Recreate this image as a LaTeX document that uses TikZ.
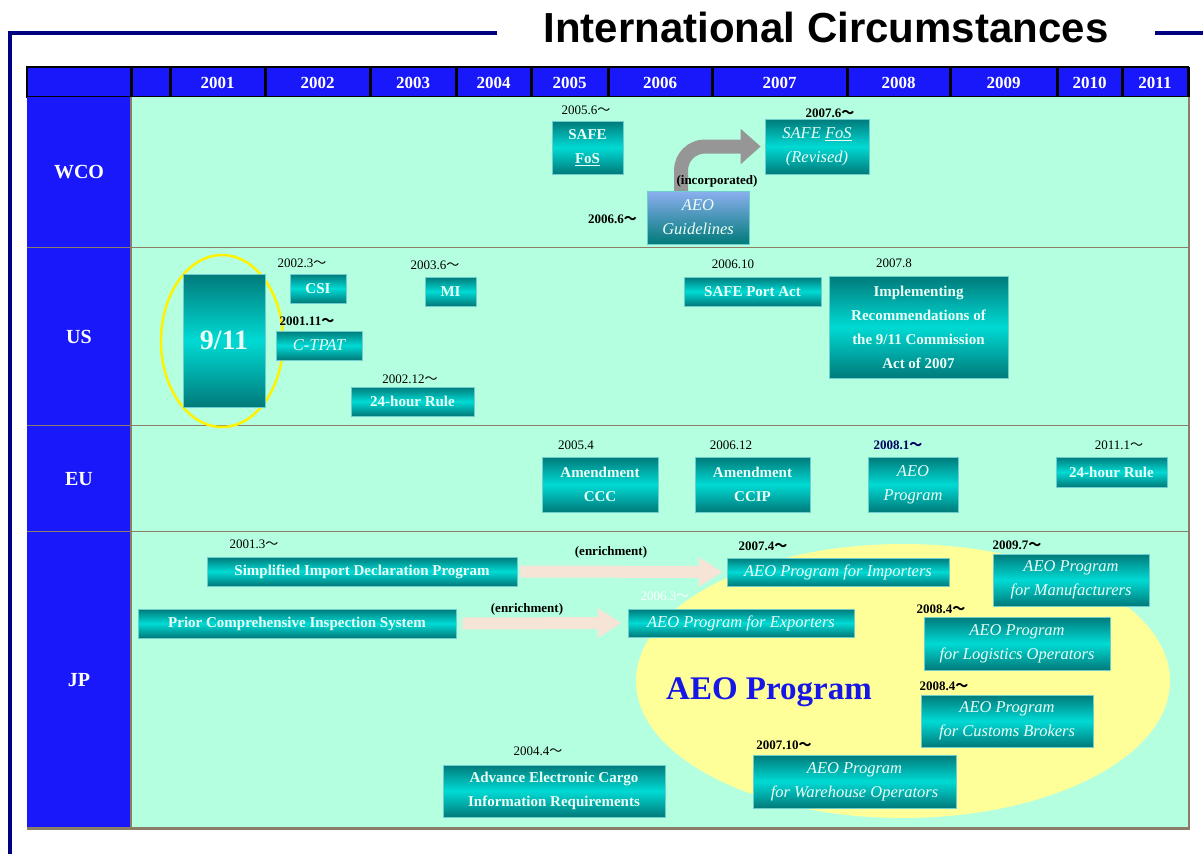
\documentclass[tikz,border=0pt]{standalone}
\usepackage{fontspec}
\setmainfont{Liberation Serif}
\newfontfamily\headfont{Liberation Sans}
\newfontfamily\cjk{Noto Sans CJK JP}
\usetikzlibrary{arrows.meta, positioning, shapes.geometric}
\definecolor{navyline}{RGB}{0,0,128}
\definecolor{hdrblue}{RGB}{24,24,250}
\definecolor{mint}{RGB}{180,255,224}
\definecolor{tealdark}{RGB}{0,122,122}
\definecolor{tealmid}{RGB}{0,218,212}
\definecolor{boxedge}{RGB}{110,205,205}
\definecolor{boxtext}{RGB}{236,255,246}
\definecolor{rowline}{RGB}{140,125,105}
\definecolor{ovalyellow}{RGB}{255,255,153}
\definecolor{enrich}{RGB}{246,228,214}
\definecolor{incorp}{RGB}{150,150,150}
\definecolor{aeoblue}{RGB}{22,22,230}
\definecolor{guidetop}{RGB}{140,175,240}
\definecolor{datenavy}{RGB}{0,0,96}
\newcommand{\tld}{{\cjk ～}}

\begin{document}
\begin{tikzpicture}[x=1pt, y=-1pt,
    prog/.style={draw=boxedge, line width=0.6pt, top color=tealdark, bottom color=tealdark, middle color=tealmid, text=boxtext, font=\bfseries\fontsize{15}{24}\selectfont, align=center, inner sep=0pt},
    progit/.style={prog, font=\itshape\fontsize{16.5}{24}\selectfont},
    date/.style={font=\fontsize{13}{15}\selectfont, inner sep=0pt},
    datebf/.style={date, font=\bfseries\fontsize{13}{15}\selectfont},
    yr/.style={text=white, font=\bfseries\fontsize{17}{20}\selectfont},
    org/.style={text=white, font=\bfseries\fontsize{20}{24}\selectfont},
    flow/.style={line width=12pt, enrich, -{Triangle[length=24pt, width=28pt]}},
    fold/.style={line width=14pt, incorp, rounded corners=24pt, -{Triangle[length=20pt, width=34pt]}}
]
    \useasboundingbox[fill=white] (0,0) rectangle (1203,854);

    % Title and frame
    \draw[navyline, line width=4pt] (497,33) -- (10,33) -- (10,854);
    \draw[navyline, line width=4pt] (1155,33) -- (1203,33);
    \node[font=\headfont\bfseries\fontsize{42}{46}\selectfont] (title) at (826,27) {International Circumstances};

    % Header row
    \fill[hdrblue] (27,67) rectangle (1188,97);
    \draw[line width=3pt] (131,67) -- (131,97) (170,67) -- (170,97);
    \foreach \a/\b/\yr in {170/265/2001, 265/370/2002, 370/456/2003, 456/531/2004, 531/608/2005, 608/712/2006, 712/847/2007, 847/950/2008, 950/1057/2009, 1057/1122/2010, 1122/1188/2011} {
        \node[yr] (y\yr) at ({(\a+\b)/2},83) {\yr};
        \draw[line width=3pt] (\b,67) -- (\b,97);
    }
    \draw[line width=2pt] (27,67) rectangle (1188,97);

    % Rows
    \foreach \top/\bot/\lbl in {97/248/WCO, 248/426/US, 426/532/EU, 532/828/JP} {
        \fill[hdrblue] (27,\top) rectangle (131,\bot);
        \fill[mint] (131,\top) rectangle (1188,\bot);
        \node[org] (r\lbl) at (79,{(\top+\bot)/2}) {\lbl};
        \draw[rowline, line width=1.5pt] (27,\bot) -- (1188,\bot);
    }
    \draw[rowline, line width=1.5pt] (131,97) -- (131,828);
    \draw[rowline, line width=2.5pt] (1189,97) -- (1189,829) -- (27,829);

    % WCO
    \node[date] (d0506) at (586,110) {2005.6\tld};
    \node[prog, minimum width=71pt, minimum height=53pt] (safefos) at (587.5,147.5) {SAFE\\\underline{FoS}};
    \node[datebf] (d0706) at (830,113) {2007.6\tld};
    \node[progit, minimum width=104pt, minimum height=55pt] (fosrev) at (817,146.5) {SAFE \underline{FoS}\\(Revised)};
    \draw[fold] (681,192) |- ([xshift=-4pt]fosrev.west);
    \node[datebf] (incorp) at (717,181) {(incorporated)};
    \node[progit, top color=guidetop, minimum width=102pt, minimum height=53pt] (guide) at (698,217.5) {AEO\\Guidelines};
    \node[datebf, anchor=east] (d0606) at (637,219) {2006.6\tld};

    % US
    \draw[yellow, line width=2.5pt] (222,341) ellipse [x radius=61, y radius=86];
    \node[prog, font=\bfseries\fontsize{28}{30}\selectfont, minimum width=82pt, minimum height=133pt] (nine) at (224,340.5) {9/11};
    \node[date] (d0203) at (302,263) {2002.3\tld};
    \node[prog, minimum width=56pt, minimum height=29pt] (csi) at (318,288.5) {CSI};
    \node[date] (d0306) at (435,265) {2003.6\tld};
    \node[prog, minimum width=51pt, minimum height=29pt] (mi) at (450.5,291.5) {MI};
    \node[datebf] (d0111) at (307,321) {2001.11\tld};
    \node[progit, minimum width=86pt, minimum height=29pt] (ctpat) at (319,345.5) {C-TPAT};
    \node[date] (d0212) at (410,379) {2002.12\tld};
    \node[prog, minimum width=123pt, minimum height=29pt] (hrus) at (412.5,401.5) {24-hour Rule};
    \node[date] (d0610) at (733,264) {2006.10};
    \node[prog, minimum width=137pt, minimum height=29pt] (portact) at (752.5,291.5) {SAFE Port Act};
    \node[date] (d0708) at (894,263) {2007.8};
    \node[prog, minimum width=179pt, minimum height=102pt] (impl) at (918.5,327) {Implementing\\Recommendations of\\the 9/11 Commission\\Act of 2007};

    % EU
    \node[date] (d0504) at (576,445) {2005.4};
    \node[prog, minimum width=116pt, minimum height=55pt] (ccc) at (600,484.5) {Amendment\\CCC};
    \node[date] (d0612) at (731,445) {2006.12};
    \node[prog, minimum width=115pt, minimum height=55pt] (ccip) at (752.5,484.5) {Amendment\\CCIP};
    \node[datebf, text=datenavy] (d0801) at (898,445) {2008.1\tld};
    \node[progit, minimum width=90pt, minimum height=55pt] (euaeo) at (913,484.5) {AEO\\Program};
    \node[date] (d1101) at (1119,445) {2011.1\tld};
    \node[prog, minimum width=111pt, minimum height=30pt] (hreu) at (1111.5,472) {24-hour Rule};

    % JP
    \fill[ovalyellow] (903,681) ellipse [x radius=267, y radius=137];
    \node[font=\bfseries\fontsize{33}{36}\selectfont, text=aeoblue] (aeo) at (769,692) {AEO Program};
    \node[date] (d0103) at (254,544) {2001.3\tld};
    \node[prog, minimum width=310pt, minimum height=29pt] (sidp) at (362,571.5) {Simplified Import Declaration Program};
    \node[datebf] (d0704) at (763,546) {2007.4\tld};
    \node[progit, minimum width=222pt, minimum height=28pt] (importers) at (838,572) {AEO Program for Importers};
    \draw[flow] ([xshift=3pt]sidp.east) -- ([xshift=-4pt]importers.west);
    \node[datebf] (enr1) at (611,552) {(enrichment)};
    \node[datebf] (d0907) at (1017,545) {2009.7\tld};
    \node[progit, minimum width=156pt, minimum height=52pt] (manuf) at (1071,580) {AEO Program\\for Manufacturers};
    \node[prog, minimum width=318pt, minimum height=29pt] (pcis) at (297,623.5) {Prior Comprehensive Inspection System};
    \node[date, text=white] (d0603) at (665,596) {2006.3\tld};
    \node[progit, minimum width=226pt, minimum height=28pt] (exporters) at (741,623) {AEO Program for Exporters};
    \draw[flow] ([xshift=6pt]pcis.east) -- ([xshift=-6pt]exporters.west);
    \node[datebf] (enr2) at (527,609) {(enrichment)};
    \node[datebf] (d0804a) at (941,609) {2008.4\tld};
    \node[progit, minimum width=186pt, minimum height=53pt] (logistics) at (1017,643.5) {AEO Program\\for Logistics Operators};
    \node[datebf] (d0804b) at (944,686) {2008.4\tld};
    \node[progit, minimum width=172pt, minimum height=52pt] (brokers) at (1007,721) {AEO Program\\for Customs Brokers};
    \node[datebf] (d0710) at (784,745) {2007.10\tld};
    \node[progit, minimum width=203pt, minimum height=53pt] (warehouse) at (854.5,781.5) {AEO Program\\for Warehouse Operators};
    \node[date] (d0404) at (538,751) {2004.4\tld};
    \node[prog, minimum width=222pt, minimum height=52pt] (cargo) at (554,791) {Advance Electronic Cargo\\Information Requirements};
\end{tikzpicture}
\end{document}
